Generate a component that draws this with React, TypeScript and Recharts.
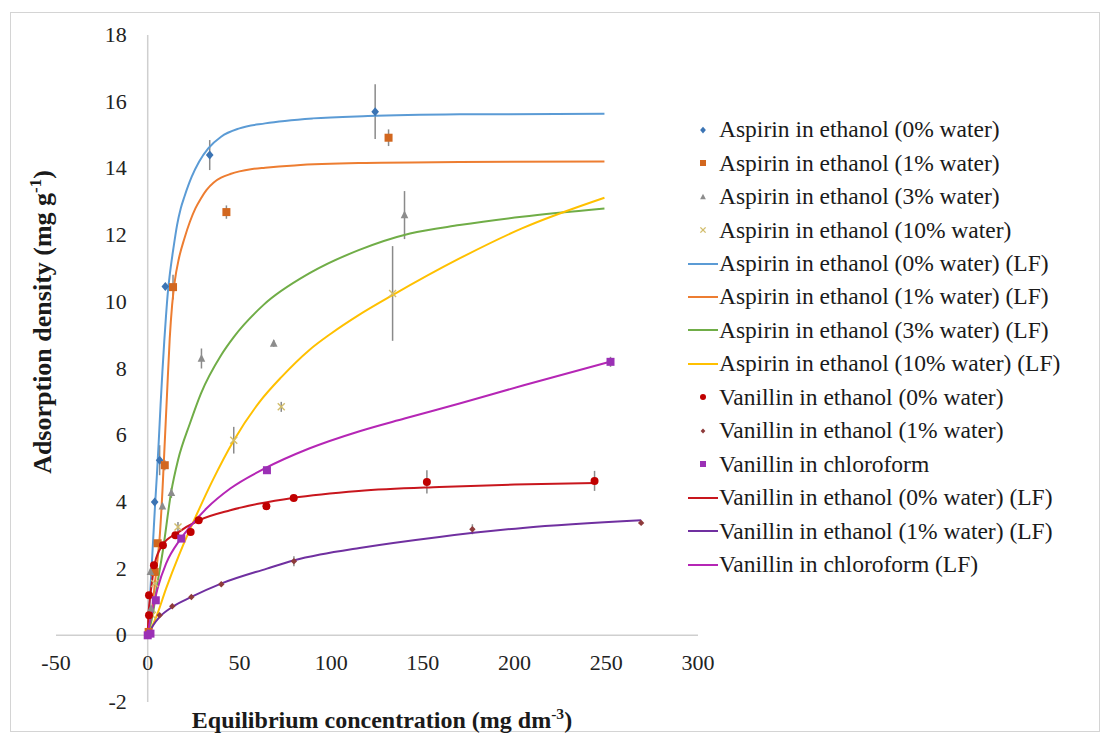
import React from "react";
import {
  ComposedChart,
  Line,
  Scatter,
  XAxis,
  YAxis,
  ReferenceLine,
  ErrorBar,
} from "recharts";

// measured data (x = equilibrium concentration, y = adsorption density, e = +/- error)
const aspirin0X = [0.3, 3.8, 6.5, 9.6, 33.8, 124];
const aspirin0Y = [0.05, 4.0, 5.25, 10.46, 14.4, 15.7];
const aspirin0E = [0, 0.1, 0.45, 0.1, 0.45, 0.82];

const aspirin1X = [0.5, 3.8, 5.4, 9.3, 13.8, 42.9, 131.3];
const aspirin1Y = [0.1, 1.9, 2.76, 5.1, 10.44, 12.69, 14.92];
const aspirin1E = [0, 0.1, 0.1, 0.15, 0.37, 0.2, 0.25];

const aspirin3X = [1.8, 1.5, 8, 12.9, 29.3, 68.7, 140];
const aspirin3Y = [0.8, 1.9, 3.87, 4.27, 8.3, 8.75, 12.6];
const aspirin3E = [0.05, 0.1, 0.1, 0.15, 0.3, 0.1, 0.72];

const aspirin10X = [2.5, 3.8, 16.5, 46.9, 72.8, 133.5];
const aspirin10Y = [0.6, 1.55, 3.25, 5.85, 6.85, 10.25];
const aspirin10E = [0.05, 0.1, 0.15, 0.4, 0.15, 1.42];

const vanillin0X = [0.7, 0.7, 3.4, 8.3, 15.1, 23.4, 27.8, 64.7, 79.6, 152.2, 243.6];
const vanillin0Y = [0.6, 1.2, 2.1, 2.7, 3.0, 3.1, 3.45, 3.87, 4.12, 4.6, 4.63];
const vanillin0E = [0, 0, 0, 0, 0, 0, 0, 0, 0, 0.35, 0.3];

const vanillin1X = [0.5, 6.5, 13.4, 23.8, 40.1, 79.7, 177, 269];
const vanillin1Y = [0.02, 0.6, 0.87, 1.15, 1.53, 2.22, 3.18, 3.37];
const vanillin1E = [0, 0.05, 0.05, 0.05, 0.05, 0.15, 0.15, 0.05];

const chloroX = [0, 1.5, 4.4, 18.3, 65, 252.3];
const chloroY = [0, 0.05, 1.05, 2.9, 4.95, 8.2];
const chloroE = [0, 0, 0, 0, 0, 0.15];

// LF fitted curves
const aspirin0LFX = [0, 1, 2, 3, 4, 5, 6, 7, 8, 9, 10, 11, 12, 14, 16, 18, 20, 24, 28, 33, 40, 50, 64, 90, 120, 170, 249];
const aspirin0LFY = [0, 0.9, 1.9, 2.9, 3.9, 4.8, 5.8, 6.9, 7.9, 8.8, 9.6, 10.3, 10.8, 11.6, 12.3, 12.8, 13.15, 13.75, 14.2, 14.6, 14.95, 15.2, 15.35, 15.5, 15.57, 15.62, 15.64];

const aspirin1LFX = [0, 2, 4, 5.4, 6.4, 8, 9.3, 10.5, 12, 13.3, 14.7, 17, 20, 23, 26, 29, 32, 36, 40, 45, 50, 57, 64, 80, 115, 170, 249];
const aspirin1LFY = [0, 0.6, 1.6, 2.3, 2.85, 4.3, 5.8, 7.2, 8.9, 9.9, 10.6, 11.3, 11.9, 12.4, 12.8, 13.1, 13.35, 13.58, 13.72, 13.83, 13.91, 13.98, 14.02, 14.09, 14.16, 14.19, 14.21];

const aspirin3LFX = [0, 3, 5, 8.3, 12.8, 16.5, 23, 29, 40, 47, 63, 88, 115, 143, 170, 204, 249];
const aspirin3LFY = [0, 0.7, 1.45, 2.55, 4.3, 5.25, 6.35, 7.25, 8.4, 8.95, 9.9, 10.85, 11.55, 12.05, 12.3, 12.55, 12.8];

const aspirin10LFX = [0, 5, 10, 17, 22, 26.5, 35, 47, 61, 73, 88, 100, 115, 133.5, 170, 204, 249];
const aspirin10LFY = [0, 0.6, 1.4, 2.4, 3.05, 3.6, 4.6, 5.85, 7.0, 7.75, 8.55, 9.05, 9.6, 10.2, 11.3, 12.2, 13.12];

const vanillin0LFX = [0, 0.3, 1, 2, 3.8, 8.3, 15.6, 28, 45, 61, 79, 115, 159, 200, 244];
const vanillin0LFY = [0, 0.5, 1.0, 1.45, 2.15, 2.72, 3.05, 3.45, 3.75, 3.95, 4.12, 4.33, 4.45, 4.52, 4.57];

const vanillin1LFX = [0, 3, 6.5, 13.4, 23.8, 40, 65, 80, 94, 115.5, 159, 204.5, 269];
const vanillin1LFY = [0, 0.3, 0.55, 0.85, 1.15, 1.55, 2.0, 2.25, 2.42, 2.62, 2.95, 3.22, 3.45];

const chloroLFX = [0, 1, 3, 5.6, 10, 17.4, 23, 32, 45, 63, 88, 115.5, 140, 170, 205, 252];
const chloroLFY = [0, 0.35, 0.85, 1.45, 2.15, 2.85, 3.25, 3.8, 4.4, 4.98, 5.6, 6.12, 6.5, 6.95, 7.5, 8.2];

const X_TICKS = [-50, 0, 50, 100, 150, 200, 250, 300];
const Y_TICKS = [-2, 0, 2, 4, 6, 8, 10, 12, 14, 16, 18];
const X_DOMAIN: [number, number] = [-50, 300];
const Y_DOMAIN: [number, number] = [-2, 18];

const W = 1100;
const H = 740;
const MARGIN = { top: 35, right: 402, bottom: 8, left: 16 };
const X_AXIS_H = 30;
const Y_AXIS_W = 40;
const PLOT_W = W - MARGIN.left - MARGIN.right - Y_AXIS_W;
const PLOT_H = H - MARGIN.top - MARGIN.bottom - X_AXIS_H;
const PLOT_LEFT = MARGIN.left + Y_AXIS_W;
const PLOT_BOTTOM = H - MARGIN.bottom - X_AXIS_H;
// the axes cross at (0, 0), not at the plot edges
const ZERO_X = PLOT_LEFT + (PLOT_W * (0 - X_DOMAIN[0])) / (X_DOMAIN[1] - X_DOMAIN[0]);
const ZERO_Y = PLOT_BOTTOM - (PLOT_H * (0 - Y_DOMAIN[0])) / (Y_DOMAIN[1] - Y_DOMAIN[0]);

const FONT = "'Liberation Serif', 'Times New Roman', serif";
const TICK_SIZE = 22;

const pts = (xs: number[], ys: number[], es?: number[]) =>
  xs.map((x, i) => ({ x, y: ys[i], e: es ? es[i] : 0 }));

type MarkerKind = "diamond" | "square" | "triangle" | "x" | "circle" | "smalldiamond";

const drawMarker = (kind: MarkerKind, color: string, cx: number, cy: number, s = 1) => {
  if (kind === "diamond") {
    const r = 4.5 * s;
    return <polygon points={`${cx},${cy - r} ${cx + r * 0.85},${cy} ${cx},${cy + r} ${cx - r * 0.85},${cy}`} fill={color} />;
  }
  if (kind === "smalldiamond") {
    const r = 3.2 * s;
    return <polygon points={`${cx},${cy - r} ${cx + r},${cy} ${cx},${cy + r} ${cx - r},${cy}`} fill={color} />;
  }
  if (kind === "square") {
    const r = 4 * s;
    return <rect x={cx - r} y={cy - r} width={2 * r} height={2 * r} fill={color} />;
  }
  if (kind === "triangle") {
    const r = 4.5 * s;
    return <polygon points={`${cx},${cy - r} ${cx + r * 0.85},${cy + r * 0.7} ${cx - r * 0.85},${cy + r * 0.7}`} fill={color} />;
  }
  if (kind === "x") {
    const r = 3.5 * s;
    return (
      <g stroke={color} strokeWidth={1.4}>
        <line x1={cx - r} y1={cy - r} x2={cx + r} y2={cy + r} />
        <line x1={cx - r} y1={cy + r} x2={cx + r} y2={cy - r} />
      </g>
    );
  }
  return <circle cx={cx} cy={cy} r={4 * s} fill={color} />;
};

const markerShape = (kind: MarkerKind, color: string) => (p: any) =>
  p.cx == null ? <g /> : drawMarker(kind, color, p.cx, p.cy);

const ERR = "#8a8a8a";

type Entry = { name: string; kind: MarkerKind | "line"; color: string };
const LEGEND: Entry[] = [
  { name: "Aspirin in ethanol (0% water)", kind: "diamond", color: "#3b74b4" },
  { name: "Aspirin in ethanol (1% water)", kind: "square", color: "#d2671f" },
  { name: "Aspirin in ethanol (3% water)", kind: "triangle", color: "#8c8c8c" },
  { name: "Aspirin in ethanol (10% water)", kind: "x", color: "#d2bd6c" },
  { name: "Aspirin in ethanol (0% water) (LF)", kind: "line", color: "#5b9bd5" },
  { name: "Aspirin in ethanol (1% water) (LF)", kind: "line", color: "#ed7d31" },
  { name: "Aspirin in ethanol (3% water) (LF)", kind: "line", color: "#70ad47" },
  { name: "Aspirin in ethanol (10% water) (LF)", kind: "line", color: "#ffc000" },
  { name: "Vanillin in ethanol (0% water)", kind: "circle", color: "#c00000" },
  { name: "Vanillin in ethanol (1% water)", kind: "smalldiamond", color: "#8e3b3b" },
  { name: "Vanillin in chloroform", kind: "square", color: "#9b30b5" },
  { name: "Vanillin in ethanol (0% water) (LF)", kind: "line", color: "#c8161d" },
  { name: "Vanillin in ethanol (1% water) (LF)", kind: "line", color: "#7030a0" },
  { name: "Vanillin in chloroform (LF)", kind: "line", color: "#b526b5" },
];

const XTick = (props: any) => {
  const { payload } = props;
  return (
    <text x={payload.coordinate} y={ZERO_Y + 35} textAnchor="middle" fontFamily={FONT} fontSize={TICK_SIZE} fill="#222">
      {payload.value}
    </text>
  );
};

const YTick = (props: any) => {
  const { payload } = props;
  return (
    <text x={ZERO_X - 21} y={payload.coordinate + 7} textAnchor="end" fontFamily={FONT} fontSize={TICK_SIZE} fill="#222">
      {payload.value}
    </text>
  );
};

const scatterSeries = [
  { entry: LEGEND[0], data: pts(aspirin0X, aspirin0Y, aspirin0E) },
  { entry: LEGEND[1], data: pts(aspirin1X, aspirin1Y, aspirin1E) },
  { entry: LEGEND[2], data: pts(aspirin3X, aspirin3Y, aspirin3E) },
  { entry: LEGEND[3], data: pts(aspirin10X, aspirin10Y, aspirin10E) },
];
const aspirinLines = [
  { entry: LEGEND[4], data: pts(aspirin0LFX, aspirin0LFY) },
  { entry: LEGEND[5], data: pts(aspirin1LFX, aspirin1LFY) },
  { entry: LEGEND[6], data: pts(aspirin3LFX, aspirin3LFY) },
  { entry: LEGEND[7], data: pts(aspirin10LFX, aspirin10LFY) },
];
const vanillinScatter = [
  { entry: LEGEND[8], data: pts(vanillin0X, vanillin0Y, vanillin0E) },
  { entry: LEGEND[9], data: pts(vanillin1X, vanillin1Y, vanillin1E) },
  { entry: LEGEND[10], data: pts(chloroX, chloroY, chloroE) },
];
const vanillinLines = [
  { entry: LEGEND[11], data: pts(vanillin0LFX, vanillin0LFY) },
  { entry: LEGEND[12], data: pts(vanillin1LFX, vanillin1LFY) },
  { entry: LEGEND[13], data: pts(chloroLFX, chloroLFY) },
];

const renderScatter = (s: { entry: Entry; data: any[] }) => (
  <Scatter
    key={s.entry.name}
    name={s.entry.name}
    data={s.data}
    dataKey="y"
    shape={markerShape(s.entry.kind as MarkerKind, s.entry.color)}
    isAnimationActive={false}
  >
    <ErrorBar dataKey="e" direction="y" width={0} stroke={ERR} strokeWidth={1.5} />
  </Scatter>
);

const renderLine = (s: { entry: Entry; data: any[] }) => (
  <Line
    key={s.entry.name}
    name={s.entry.name}
    data={s.data}
    dataKey="y"
    type="monotone"
    stroke={s.entry.color}
    strokeWidth={2}
    dot={false}
    activeDot={false}
    isAnimationActive={false}
  />
);

const LegendBox = () => (
  <div style={{ position: "absolute", left: 688, top: 113, fontFamily: FONT, fontSize: 23.5, color: "#1a1a1a" }}>
    {LEGEND.map((e) => (
      <div key={e.name} style={{ display: "flex", alignItems: "center", height: 33.46, whiteSpace: "nowrap" }}>
        <svg width={31} height={20} style={{ flex: "none" }}>
          {e.kind === "line" ? (
            <line x1={0} y1={10} x2={30} y2={10} stroke={e.color} strokeWidth={2} />
          ) : (
            drawMarker(e.kind as MarkerKind, e.color, 15, 10, 0.75)
          )}
        </svg>
        <span>{e.name}</span>
      </div>
    ))}
  </div>
);

export default function App() {
  return (
    <div style={{ position: "absolute", left: 0, top: 0, width: W, height: H, background: "#fff", overflow: "hidden" }}>
      <div style={{ position: "absolute", left: 10, top: 12, width: 1088, height: 718, border: "1px solid #d4d4d4" }} />
      <ComposedChart width={W} height={H} margin={MARGIN} style={{ position: "absolute", left: 0, top: 0 }}>
        <XAxis
          type="number"
          dataKey="x"
          domain={X_DOMAIN}
          ticks={X_TICKS}
          interval={0}
          allowDataOverflow
          axisLine={false}
          tickLine={false}
          tick={<XTick />}
          height={X_AXIS_H}
        />
        <YAxis
          type="number"
          dataKey="y"
          domain={Y_DOMAIN}
          ticks={Y_TICKS}
          interval={0}
          allowDataOverflow
          axisLine={false}
          tickLine={false}
          tick={<YTick />}
          width={Y_AXIS_W}
        />
        <ReferenceLine x={0} stroke="#cfcfcf" strokeWidth={1.5} />
        <ReferenceLine y={0} stroke="#cfcfcf" strokeWidth={1.5} />
        {scatterSeries.map(renderScatter)}
        {aspirinLines.map(renderLine)}
        {vanillinScatter.map(renderScatter)}
        {vanillinLines.map(renderLine)}
      </ComposedChart>
      <LegendBox />
      <div
        style={{
          position: "absolute",
          left: 42,
          top: 322,
          transform: "translate(-50%, -50%) rotate(-90deg)",
          fontFamily: FONT,
          fontWeight: "bold",
          fontSize: 26,
          whiteSpace: "nowrap",
          color: "#1a1a1a",
        }}
      >
        Adsorption density (mg g<sup style={{ fontSize: "65%" }}>-1</sup>)
      </div>
      <div
        style={{
          position: "absolute",
          left: 382,
          top: 719,
          transform: "translate(-50%, -50%)",
          fontFamily: FONT,
          fontWeight: "bold",
          fontSize: 24,
          whiteSpace: "nowrap",
          color: "#1a1a1a",
        }}
      >
        Equilibrium concentration (mg dm<sup style={{ fontSize: "65%" }}>-3</sup>)
      </div>
    </div>
  );
}
